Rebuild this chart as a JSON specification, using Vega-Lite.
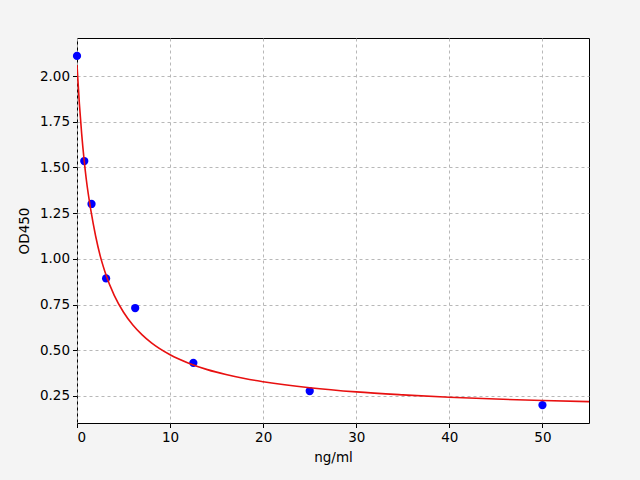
{
  "$schema": "https://vega.github.io/schema/vega-lite/v6.json",
  "autosize": "none",
  "width": 512,
  "height": 385,
  "padding": {"left": 77, "top": 38, "right": 51, "bottom": 57},
  "background": "#f4f4f4",
  "config": {
    "view": {"fill": "white", "stroke": "black", "strokeWidth": 1},
    "font": "DejaVu Sans",
    "axis": {
      "labelFont": "DejaVu Sans",
      "titleFont": "DejaVu Sans",
      "labelFontSize": 13.5,
      "titleFontSize": 13.5,
      "titleFontWeight": "normal",
      "labelColor": "black",
      "titleColor": "black",
      "domainColor": "black",
      "tickColor": "black",
      "tickSize": 4.5,
      "labelPadding": 3,
      "gridColor": "#b0b0b0",
      "gridDash": [3, 3],
      "gridWidth": 0.9
    }
  },
  "datasets": {
    "pts": [
      {"conc": 0, "od": 2.11},
      {"conc": 0.78, "od": 1.535},
      {"conc": 1.56, "od": 1.30},
      {"conc": 3.125, "od": 0.893},
      {"conc": 6.25, "od": 0.731},
      {"conc": 12.5, "od": 0.431},
      {"conc": 25, "od": 0.277},
      {"conc": 50, "od": 0.2}
    ],
    "curve": [
      {"conc": 0, "od": 2.06},
      {"conc": 0.25, "od": 1.852},
      {"conc": 0.5, "od": 1.685},
      {"conc": 0.75, "od": 1.548},
      {"conc": 1, "od": 1.434},
      {"conc": 1.5, "od": 1.262},
      {"conc": 2, "od": 1.125},
      {"conc": 2.5, "od": 1.015},
      {"conc": 3, "od": 0.93},
      {"conc": 4, "od": 0.8},
      {"conc": 5, "od": 0.708},
      {"conc": 6, "od": 0.638},
      {"conc": 7, "od": 0.584},
      {"conc": 8, "od": 0.54},
      {"conc": 10, "od": 0.475},
      {"conc": 12, "od": 0.429},
      {"conc": 14, "od": 0.394},
      {"conc": 16, "od": 0.367},
      {"conc": 18, "od": 0.345},
      {"conc": 20, "od": 0.328},
      {"conc": 25, "od": 0.295},
      {"conc": 30, "od": 0.272},
      {"conc": 35, "od": 0.256},
      {"conc": 40, "od": 0.243},
      {"conc": 45, "od": 0.233},
      {"conc": 50, "od": 0.225},
      {"conc": 55, "od": 0.219}
    ]
  },
  "encoding": {
    "x": {
      "field": "conc",
      "type": "quantitative",
      "scale": {"domain": [0, 55], "nice": false, "zero": false},
      "axis": {"title": "ng/ml", "values": [0, 10, 20, 30, 40, 50], "titlePadding": 6, "domain": false}
    },
    "y": {
      "field": "od",
      "type": "quantitative",
      "scale": {"domain": [0.102, 2.208], "nice": false, "zero": false},
      "axis": {"title": "OD450", "values": [0.25, 0.5, 0.75, 1.0, 1.25, 1.5, 1.75, 2.0], "format": ".2f", "titlePadding": 8, "domain": false}
    }
  },
  "layer": [
    {
      "data": {"name": "pts"},
      "mark": {"type": "point", "filled": true, "shape": "circle", "size": 68, "color": "#0000ff", "opacity": 1, "clip": false}
    },
    {
      "data": {"name": "curve"},
      "mark": {"type": "line", "color": "#e81010", "strokeWidth": 1.6, "interpolate": "monotone", "clip": true}
    }
  ]
}
